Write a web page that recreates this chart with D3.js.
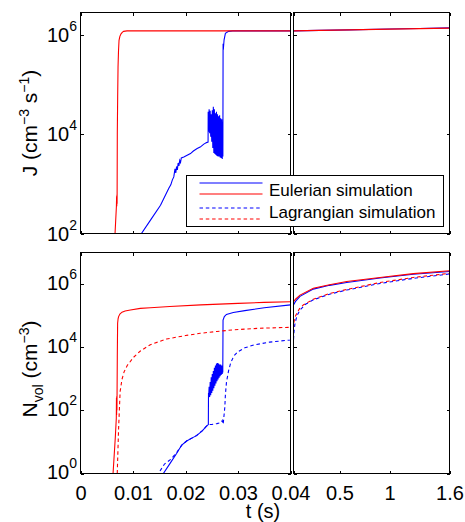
<!DOCTYPE html>
<html><head><meta charset="utf-8">
<script src="https://cdn.jsdelivr.net/npm/d3@7"></script>
<style>
html,body{margin:0;padding:0;background:#fff;}
svg text{font-family:"Liberation Sans",Arial,Helvetica,sans-serif;fill:#000;}
</style></head><body>
<svg id="chart" width="465" height="522"></svg>
<script>
// ---------- tick data ----------
const xTicksLeft = [0, 0.01, 0.02, 0.03, 0.04];
const xTickLabelsLeft = ["0", "0.01", "0.02", "0.03", "0.04"];
const xTicksRight = [0.04, 0.5, 1, 1.6];
const xTickLabelsRight = ["", "0.5", "1", "1.6"];
const jTickExps = [2, 4, 6];
const nTickExps = [0, 2, 4, 6];
const legendLabels = ["Eulerian simulation", "Lagrangian simulation"];

// ---------- series (t in s, values as log10) ----------
// J, Eulerian, blue
const jEulBlueT = [0.0114, 0.01162, 0.01333, 0.01524, 0.01682, 0.0172, 0.0175, 0.01777, 0.0180, 0.01815, 0.0183, 0.01845, 0.0186, 0.01875, 0.0189, 0.01905, 0.0192, 0.01968, 0.02095, 0.0215, 0.02222, 0.0228, 0.02349, 0.0240, 0.0243,
  0.02432, 0.0244, 0.0245, 0.0246, 0.0247, 0.0248, 0.0249, 0.0250, 0.0251, 0.0252, 0.0253, 0.0254, 0.0255, 0.0256, 0.0257, 0.0258, 0.0259, 0.0260, 0.0261, 0.0262, 0.0263, 0.0264, 0.0265, 0.0266, 0.0267, 0.0268, 0.0269, 0.0270, 0.02707, 0.02712,
  0.02716, 0.0272, 0.02735, 0.0276, 0.0282, 0.0290, 0.040, 0.3, 0.6, 1.0, 1.3, 1.6];
const jEulBlueLog = [1.9, 2.0, 2.27, 2.57, 2.91, 2.98, 3.08, 3.14, 3.30, 3.22, 3.35, 3.28, 3.42, 3.36, 3.47, 3.43, 3.52, 3.54, 3.61, 3.66, 3.71, 3.74, 3.80, 3.83, 3.84,
  4.45, 4.05, 4.50, 4.02, 4.47, 3.95, 4.40, 3.85, 4.48, 3.72, 4.55, 3.62, 4.50, 3.60, 4.42, 3.58, 4.45, 3.56, 4.40, 3.55, 4.36, 3.55, 4.38, 3.53, 4.32, 3.52, 4.30, 3.50, 4.25, 3.55,
  5.82, 5.70, 5.90, 6.03, 6.07, 6.08, 6.08, 6.09, 6.10, 6.117, 6.128, 6.14];
// J, Eulerian, red
const jEulRedT = [0.0064, 0.00658, 0.00684, 0.00688, 0.00691, 0.00694, 0.00697, 0.00701, 0.00708, 0.00715, 0.00724, 0.00734, 0.00750, 0.00772, 0.00795, 0.00821, 0.00885, 0.0100, 0.040, 0.3, 0.6, 1.0, 1.3, 1.6];
const jEulRedLog = [1.7, 2.0, 2.55, 2.75, 2.55, 2.78, 2.6, 4.01, 4.75, 5.35, 5.68, 5.89, 5.97, 6.02, 6.05, 6.07, 6.08, 6.08, 6.08, 6.09, 6.10, 6.115, 6.125, 6.135];

// N_vol, Eulerian, blue
const nEulBlueT = [0.0156, 0.01579, 0.01706, 0.01833, 0.01928, 0.02023, 0.0212, 0.0221, 0.0232, 0.0240, 0.02435,
  0.02438, 0.0244, 0.0245, 0.0246, 0.0247, 0.0248, 0.0249, 0.0250, 0.0251, 0.0252, 0.0253, 0.0254, 0.0255, 0.0256, 0.0257, 0.0258, 0.0259, 0.0260, 0.0261, 0.0262, 0.0263, 0.0264, 0.0265, 0.0266, 0.0267, 0.0268, 0.0269, 0.0270, 0.02705, 0.0271,
  0.02715, 0.0274, 0.0278, 0.0291, 0.0313, 0.035, 0.040, 0.06, 0.105, 0.238, 0.4, 0.572, 0.905, 1.238, 1.6];
const nEulBlueLog = [-0.2, 0, 0.32, 0.64, 0.90, 1.03, 1.12, 1.20, 1.35, 1.50, 1.55,
  2.55, 2.40, 2.75, 2.42, 2.90, 2.48, 3.05, 2.55, 3.15, 2.62, 3.25, 2.70, 3.35, 2.78, 3.42, 2.85, 3.48, 2.92, 3.50, 2.98, 3.48, 3.03, 3.45, 3.08, 3.45, 3.12, 3.42, 3.15, 3.40, 3.20,
  4.86, 4.97, 5.04, 5.10, 5.16, 5.25, 5.34, 5.45, 5.61, 5.84, 5.96, 6.05, 6.19, 6.31, 6.40];
// N_vol, Eulerian, red
const nEulRedT = [0.0060, 0.0062, 0.00664, 0.00682, 0.00685, 0.00688, 0.00691, 0.00694, 0.00696, 0.00701, 0.00707, 0.00716, 0.00726, 0.0075, 0.0079, 0.0085, 0.0095, 0.0114, 0.0133, 0.0170, 0.0229, 0.0300, 0.0350, 0.040, 0.06, 0.105, 0.238, 0.4, 0.572, 0.905, 1.238, 1.6];
const nEulRedLog = [-0.4, 0, 1.17, 1.75, 2.4, 1.85, 2.45, 2.0, 2.43, 3.70, 4.76, 4.90, 4.97, 5.05, 5.11, 5.15, 5.18, 5.23, 5.25, 5.29, 5.34, 5.39, 5.42, 5.44, 5.52, 5.65, 5.87, 5.98, 6.08, 6.21, 6.33, 6.42];
// N_vol, Lagrangian, blue
const nLagBlueT = [0.0146, 0.01484, 0.0160, 0.0172, 0.0183, 0.0193, 0.0202, 0.0221, 0.0232, 0.0240, 0.0244, 0.0250, 0.0255, 0.0260, 0.0265, 0.0268, 0.0270, 0.0271, 0.0272, 0.02749, 0.0276, 0.02781, 0.0282, 0.0286, 0.0292, 0.0300, 0.0313, 0.0330, 0.0360, 0.040, 0.045, 0.055, 0.075, 0.105, 0.16, 0.238, 0.4, 0.572, 0.905, 1.238, 1.6];
const nLagBlueLog = [-0.1, 0, 0.3, 0.45, 0.66, 0.9, 1.03, 1.20, 1.36, 1.50, 1.55, 1.55, 1.57, 1.58, 1.60, 1.62, 1.68, 1.56, 1.6, 2.1, 2.5, 2.9, 3.25, 3.5, 3.72, 3.86, 3.98, 4.07, 4.16, 4.23, 4.5, 4.76, 5.0, 5.18, 5.36, 5.50, 5.68, 5.81, 6.02, 6.18, 6.32];
// N_vol, Lagrangian, red
const nLagRedT = [0.0069, 0.0070, 0.00725, 0.00755, 0.0079, 0.0083, 0.0089, 0.0101, 0.0114, 0.0133, 0.0164, 0.0200, 0.0228, 0.0260, 0.0291, 0.0340, 0.040, 0.045, 0.055, 0.072, 0.1, 0.138, 0.238, 0.4, 0.572, 0.905, 1.238, 1.6];
const nLagRedLog = [-0.2, 0, 1.4, 2.6, 2.98, 3.22, 3.42, 3.68, 3.88, 4.08, 4.26, 4.37, 4.44, 4.50, 4.55, 4.60, 4.63, 4.8, 4.95, 5.07, 5.22, 5.34, 5.52, 5.70, 5.83, 6.05, 6.21, 6.34];

// ---------- layout ----------
const BLUE = "#0000ff", RED = "#ff0000";
const svg = d3.select("#chart");
const xL = d3.scaleLinear().domain([0, 0.04]).range([80.5, 290.5]);
const xR = d3.scaleLinear().domain([0.04, 1.6]).range([293.5, 449.5]);
const yJ = d3.scaleLog().domain([1e2, Math.pow(10, 6.45)]).range([233.5, 12.5]);
const yN = d3.scaleLog().domain([1, 1e7]).range([473.5, 252.5]);

const zip = (t, v) => t.map((d, i) => [d, Math.pow(10, v[i])]);

const panels = [
  {id: "tl", x: xL, y: yJ, xt: xTicksLeft, yt: jTickExps, left: true, bottom: false},
  {id: "tr", x: xR, y: yJ, xt: xTicksRight, yt: jTickExps, left: false, bottom: false},
  {id: "bl", x: xL, y: yN, xt: xTicksLeft, yt: nTickExps, left: true, bottom: true},
  {id: "br", x: xR, y: yN, xt: xTicksRight, yt: nTickExps, left: false, bottom: true}
];

const defs = svg.append("defs");
panels.forEach(p => {
  const [x0, x1] = p.x.range(), [y1, y0] = p.y.range();
  defs.append("clipPath").attr("id", "clip-" + p.id)
    .append("rect").attr("x", x0).attr("y", y0).attr("width", x1 - x0).attr("height", y1 - y0);
});

const series = {
  top: [
    {d: zip(jEulBlueT, jEulBlueLog), c: BLUE, dash: null},
    {d: zip(jEulRedT, jEulRedLog), c: RED, dash: null}
  ],
  bottom: [
    {d: zip(nEulBlueT, nEulBlueLog), c: BLUE, dash: null},
    {d: zip(nEulRedT, nEulRedLog), c: RED, dash: null},
    {d: zip(nLagBlueT, nLagBlueLog), c: BLUE, dash: "3.5,2.8"},
    {d: zip(nLagRedT, nLagRedLog), c: RED, dash: "3.5,2.8"}
  ]
};

panels.forEach(p => {
  const g = svg.append("g");
  const [x0, x1] = p.x.range(), [y1, y0] = p.y.range();
  const line = d3.line().x(d => p.x(d[0])).y(d => p.y(d[1]));
  const lg = g.append("g").attr("clip-path", `url(#clip-${p.id})`);
  (p.bottom ? series.bottom : series.top).forEach(s => {
    lg.append("path").attr("d", line(s.d)).attr("fill", "none")
      .attr("stroke", s.c).attr("stroke-width", 1.1)
      .attr("stroke-dasharray", s.dash);
  });
  // axes (inward ticks)
  const yVals = p.yt.map(e => Math.pow(10, e));
  const ax = [
    [d3.axisBottom(p.x).tickValues(p.xt), `translate(0,${y1})`],
    [d3.axisTop(p.x).tickValues(p.xt), `translate(0,${y0})`],
    [d3.axisLeft(p.y).tickValues(yVals), `translate(${x0},0)`],
    [d3.axisRight(p.y).tickValues(yVals), `translate(${x1},0)`]
  ];
  ax.forEach(([a, tr]) => {
    const ag = g.append("g").attr("transform", tr)
      .call(a.tickSizeInner(-3).tickSizeOuter(0).tickFormat(""));
    ag.select(".domain").remove();
    ag.selectAll("line").attr("stroke", "#000").attr("shape-rendering", "crispEdges");
  });
  // frame
  g.append("rect").attr("x", x0).attr("y", y0).attr("width", x1 - x0).attr("height", y1 - y0)
    .attr("fill", "none").attr("stroke", "#000").attr("stroke-width", 1).attr("shape-rendering", "crispEdges");

  // x tick labels for bottom panels
  if (p.bottom) {
    const labels = p.left ? xTickLabelsLeft : xTickLabelsRight;
    const xa = g.append("g").attr("transform", `translate(0,${y1})`)
      .call(d3.axisBottom(p.x).tickValues(p.xt).tickSize(0).tickPadding(12)
        .tickFormat((d, i) => labels[i]));
    xa.select(".domain").remove();
    xa.selectAll("text").attr("font-size", 20)
      .style("font-family", '"Liberation Sans",Arial,sans-serif').attr("fill", "#000");
  }
  // y tick labels (left panels)
  if (p.left) {
    const off = p.bottom ? 5.5 : 7;
    p.yt.forEach(e => {
      const t = g.append("text").attr("x", 77).attr("y", p.y(Math.pow(10, e)) + off)
        .attr("text-anchor", "end").attr("font-size", 20);
      t.append("tspan").text("10");
      t.append("tspan").attr("dy", -11).attr("font-size", 14).text(String(e));
    });
  }
});

// axis labels
const jl = svg.append("text").attr("transform", "translate(37,123) rotate(-90)")
  .attr("text-anchor", "middle").attr("font-size", 21);
jl.append("tspan").text("J (cm");
jl.append("tspan").attr("dy", -8).attr("font-size", 14).text("\u22123");
jl.append("tspan").attr("dy", 8).text(" s");
jl.append("tspan").attr("dy", -8).attr("font-size", 14).text("\u22121");
jl.append("tspan").attr("dy", 8).text(")");

const nl = svg.append("text").attr("transform", "translate(37,369) rotate(-90)")
  .attr("text-anchor", "middle").attr("font-size", 21);
nl.append("tspan").text("N");
nl.append("tspan").attr("dy", 6).attr("font-size", 14).text("vol");
nl.append("tspan").attr("dy", -6).text(" (cm");
nl.append("tspan").attr("dy", -8).attr("font-size", 14).text("\u22123");
nl.append("tspan").attr("dy", 8).text(")");

svg.append("text").attr("x", 263).attr("y", 518).attr("text-anchor", "middle")
  .attr("font-size", 20).text("t (s)");

// legend
const lg = svg.append("g");
lg.append("rect").attr("x", 186.5).attr("y", 175.5).attr("width", 257).attr("height", 51)
  .attr("fill", "#fff").attr("stroke", "#000").attr("stroke-width", 1).attr("shape-rendering", "crispEdges");
const legItems = [
  {c: BLUE, dash: null, y: 183},
  {c: RED, dash: null, y: 194},
  {c: BLUE, dash: "3.5,2.8", y: 208},
  {c: RED, dash: "3.5,2.8", y: 219}
];
legItems.forEach(it => {
  lg.append("line").attr("x1", 199.5).attr("x2", 262.5).attr("y1", it.y).attr("y2", it.y)
    .attr("stroke", it.c).attr("stroke-width", 1.2).attr("stroke-dasharray", it.dash);
});
lg.append("text").attr("x", 269).attr("y", 195.5).attr("font-size", 17).text(legendLabels[0]);
lg.append("text").attr("x", 269).attr("y", 218).attr("font-size", 17).text(legendLabels[1]);
</script>
</body></html>
